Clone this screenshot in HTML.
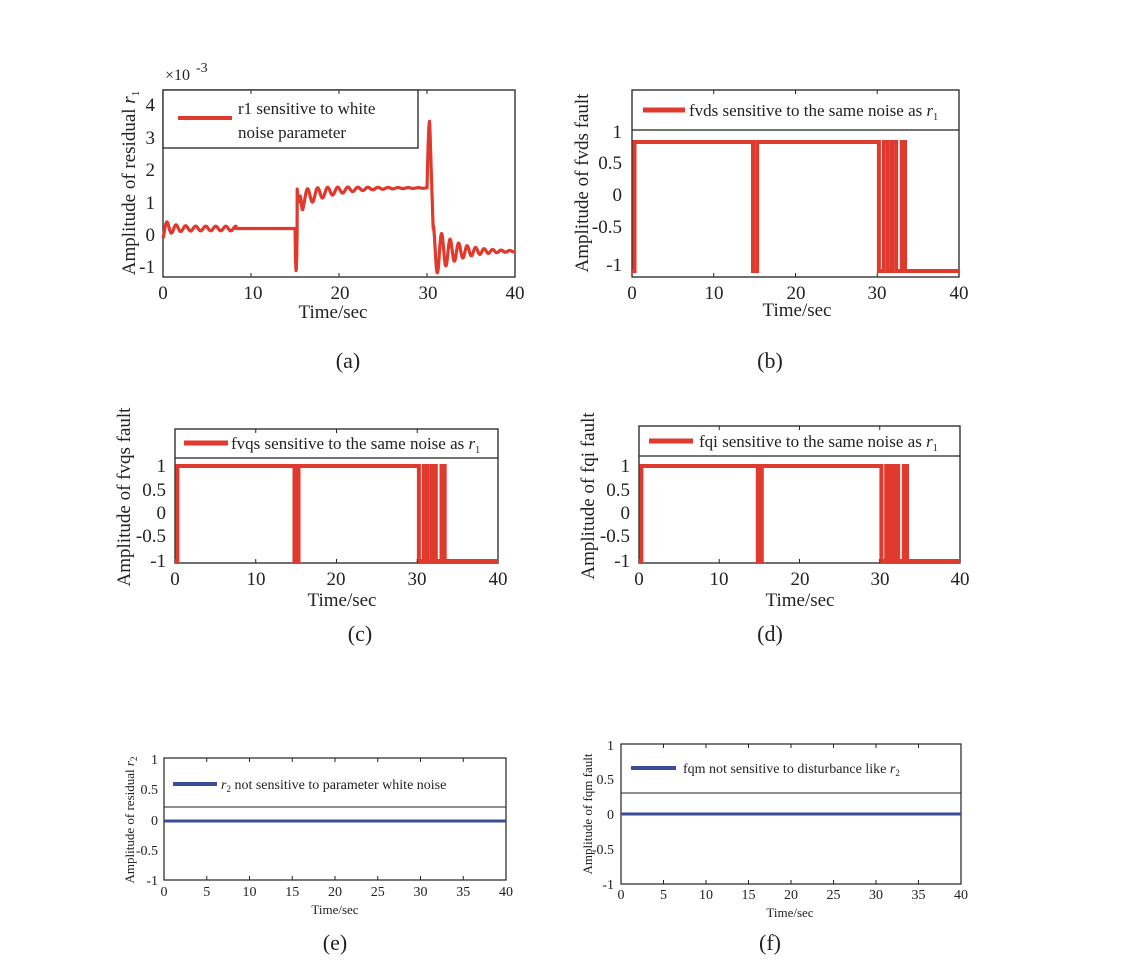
<!DOCTYPE html>
<html><head><meta charset="utf-8"><style>
html,body{margin:0;padding:0;background:#fff}
svg{display:block;font-family:"Liberation Serif",serif}
</style></head><body>
<svg id="s" width="1145" height="980" viewBox="0 0 1145 980" xmlns="http://www.w3.org/2000/svg">
<g fill="#222" font-size="19">
<!-- (a) -->
<text x="165" y="80" font-size="16">×10</text><text x="196" y="72" font-size="14">-3</text>
<rect x="163" y="90" width="352" height="187" fill="none" stroke="#222" stroke-width="1.3"/>
<g text-anchor="end"><text x="155" y="111">4</text><text x="155" y="144">3</text><text x="155" y="176">2</text><text x="155" y="209">1</text><text x="155" y="241">0</text><text x="155" y="273">-1</text></g>
<g text-anchor="middle"><text x="163" y="299">0</text><text x="253" y="299">10</text><text x="340" y="299">20</text><text x="428" y="299">30</text><text x="515" y="299">40</text></g>
<text x="333" y="318" text-anchor="middle">Time/sec</text>
<text transform="translate(135,183) rotate(-90)" text-anchor="middle">Amplitude of residual <tspan font-style="italic">r</tspan><tspan font-size="11" dy="4">1</tspan></text>
<path id="pa" fill="none" stroke="#e03a2e" stroke-width="3.2" stroke-linejoin="round"/>
<rect x="163" y="90" width="255" height="58" fill="#fff" stroke="#222" stroke-width="1.3"/>
<line x1="178" y1="118" x2="232" y2="118" stroke="#e03a2e" stroke-width="4"/>
<text x="238" y="114" font-size="17">r1 sensitive to white</text><text x="238" y="138" font-size="17">noise parameter</text>
<text x="348" y="368" text-anchor="middle" font-size="22">(a)</text>

<!-- (b) -->
<rect x="632" y="90" width="327" height="187" fill="none" stroke="#222" stroke-width="1.3"/>
<line x1="632" y1="130" x2="959" y2="130" stroke="#222" stroke-width="1.3"/>
<g text-anchor="end"><text x="622" y="138">1</text><text x="622" y="169">0.5</text><text x="622" y="201">0</text><text x="622" y="233">-0.5</text><text x="622" y="271">-1</text></g>
<g text-anchor="middle"><text x="632" y="299">0</text><text x="714" y="299">10</text><text x="796" y="299">20</text><text x="877" y="299">30</text><text x="959" y="299">40</text></g>
<text x="797" y="316" text-anchor="middle">Time/sec</text>
<text transform="translate(588,183) rotate(-90)" text-anchor="middle">Amplitude of fvds fault</text>
<path id="pb" fill="none" stroke="#e03a2e" stroke-width="4"/>
<line x1="643" y1="110" x2="685" y2="110" stroke="#e03a2e" stroke-width="5"/>
<text x="689" y="116" font-size="17">fvds sensitive to the same noise as <tspan font-style="italic">r</tspan><tspan font-size="10" dy="4">1</tspan></text>
<text x="770" y="368" text-anchor="middle" font-size="22">(b)</text>

<!-- (c) -->
<rect x="175" y="429" width="323" height="134" fill="none" stroke="#222" stroke-width="1.3"/>
<line x1="175" y1="458" x2="498" y2="458" stroke="#222" stroke-width="1.3"/>
<g text-anchor="end"><text x="166" y="472">1</text><text x="166" y="496">0.5</text><text x="166" y="519">0</text><text x="166" y="542">-0.5</text><text x="166" y="567">-1</text></g>
<g text-anchor="middle"><text x="175" y="585">0</text><text x="256" y="585">10</text><text x="336" y="585">20</text><text x="417" y="585">30</text><text x="498" y="585">40</text></g>
<text x="342" y="606" text-anchor="middle">Time/sec</text>
<text transform="translate(130,497) rotate(-90)" text-anchor="middle">Amplitude of fvqs fault</text>
<path id="pc" fill="none" stroke="#e03a2e" stroke-width="4"/>
<line x1="184" y1="443" x2="228" y2="443" stroke="#e03a2e" stroke-width="5"/>
<text x="231" y="449" font-size="17">fvqs sensitive to the same noise as <tspan font-style="italic">r</tspan><tspan font-size="10" dy="4">1</tspan></text>
<text x="360" y="641" text-anchor="middle" font-size="22">(c)</text>

<!-- (d) -->
<rect x="639" y="426" width="321" height="137" fill="none" stroke="#222" stroke-width="1.3"/>
<line x1="639" y1="456" x2="960" y2="456" stroke="#222" stroke-width="1.3"/>
<g text-anchor="end"><text x="630" y="472">1</text><text x="630" y="496">0.5</text><text x="630" y="519">0</text><text x="630" y="542">-0.5</text><text x="630" y="567">-1</text></g>
<g text-anchor="middle"><text x="639" y="585">0</text><text x="719" y="585">10</text><text x="800" y="585">20</text><text x="880" y="585">30</text><text x="960" y="585">40</text></g>
<text x="800" y="606" text-anchor="middle">Time/sec</text>
<text transform="translate(594,496) rotate(-90)" text-anchor="middle">Amplitude of fqi fault</text>
<path id="pd" fill="none" stroke="#e03a2e" stroke-width="4"/>
<line x1="649" y1="441" x2="693" y2="441" stroke="#e03a2e" stroke-width="5"/>
<text x="699" y="447" font-size="17">fqi sensitive to the same noise as <tspan font-style="italic">r</tspan><tspan font-size="10" dy="4">1</tspan></text>
<text x="770" y="641" text-anchor="middle" font-size="22">(d)</text>

<!-- (e) -->
<rect x="164" y="758" width="342" height="122" fill="none" stroke="#222" stroke-width="1.2"/>
<line x1="164" y1="807" x2="506" y2="807" stroke="#222" stroke-width="1"/>
<line x1="164" y1="821" x2="506" y2="821" stroke="#3c4b9a" stroke-width="3"/>
<line x1="173" y1="784" x2="217" y2="784" stroke="#3c4b9a" stroke-width="4"/>
<text x="221" y="789" font-size="14"><tspan font-style="italic">r</tspan><tspan font-size="9" dy="3">2</tspan><tspan dy="-3"> not sensitive to parameter white noise</tspan></text>
<g text-anchor="end" font-size="14"><text x="158" y="764">1</text><text x="158" y="794">0.5</text><text x="158" y="825">0</text><text x="158" y="855">-0.5</text><text x="158" y="885">-1</text></g>
<g text-anchor="middle" font-size="14" id="te"></g>
<text x="335" y="914" text-anchor="middle" font-size="13">Time/sec</text>
<text transform="translate(134,820) rotate(-90)" text-anchor="middle" font-size="13">Amplitude of residual <tspan font-style="italic">r</tspan><tspan font-size="9" dy="3">2</tspan></text>
<text x="335" y="950" text-anchor="middle" font-size="22">(e)</text>

<!-- (f) -->
<rect x="621" y="744" width="340" height="140" fill="none" stroke="#222" stroke-width="1.2"/>
<line x1="621" y1="793" x2="961" y2="793" stroke="#222" stroke-width="1"/>
<line x1="621" y1="814" x2="961" y2="814" stroke="#3c4b9a" stroke-width="3"/>
<line x1="631" y1="768" x2="676" y2="768" stroke="#3c4b9a" stroke-width="4"/>
<text x="683" y="773" font-size="14">fqm not sensitive to disturbance like <tspan font-style="italic">r</tspan><tspan font-size="9" dy="3">2</tspan></text>
<g text-anchor="end" font-size="14"><text x="614" y="750">1</text><text x="614" y="784">0.5</text><text x="614" y="819">0</text><text x="614" y="854">-0.5</text><text x="614" y="889">-1</text></g>
<g text-anchor="middle" font-size="14" id="tf"></g>
<text x="790" y="917" text-anchor="middle" font-size="13">Time/sec</text>
<text transform="translate(592,814) rotate(-90)" text-anchor="middle" font-size="13">Amplitude of fqm fault</text>
<text x="770" y="950" text-anchor="middle" font-size="22">(f)</text>
</g>
<g id="ticks" stroke="#222" stroke-width="1"></g>
</svg>
<script>
var NS="http://www.w3.org/2000/svg";
function el(p,tag,a,txt){var e=document.createElementNS(NS,tag);for(var k in a)e.setAttribute(k,a[k]);if(txt!=null)e.textContent=txt;document.getElementById(p).appendChild(e);}
// (a)
var d="";for(var i=0;i<=4000;i++){var t=i/100,v;
if(t<15){v=0.2-0.3*Math.exp(-t*1.2)*Math.cos(t*6)+(t<8.3?0.07*Math.sin(t*5.5):0);}
else if(t<30){var u=t-15;
 if(u<0.25)v=0.2-1.3*Math.sin(u/0.25*Math.PI);
 else{v=1.45-0.45*Math.exp(-u*0.35)+0.35*Math.exp(-u*0.25)*Math.sin(u*5.5)+(u<1?0.5*Math.sin(u*12)*(1-u):0);}}
else{var u=t-30;
 if(u<0.3)v=1.45+2.05*Math.sin(u/0.3*Math.PI/2);
 else if(u<0.7)v=3.5-(u-0.3)/0.4*3.3;
 else v=-0.5+0.8*Math.exp(-(u-0.7)*0.4)*Math.cos((u-0.7)*6.5);}
d+=(i?"L":"M")+(163+t*8.8).toFixed(1)+","+(235-v*32.5).toFixed(1);}
document.getElementById("pa").setAttribute("d",d);
function sq(id,x0,sx,yh,yl){var pts=[[0,0],[0.3,1],[14.8,0],[15.3,1],[30.2,0],[30.8,1],[31.3,0],[31.8,1],[32.3,0],[33.0,1],[33.4,0]];
var s="M"+x0+","+yl;pts.forEach(function(p,i){var x=(x0+p[0]*sx).toFixed(1);if(i>0){s+="L"+x+","+(p[1]?yl:yh);}s+="L"+x+","+(p[1]?yh:yl);});
s+="L"+(x0+40*sx)+","+yl;document.getElementById(id).setAttribute("d",s);}
sq("pb",632,8.175,142,271);sq("pc",175,8.075,466,561);sq("pd",639,8.025,466,561);
for(var k=0;k<=8;k++){el("te","text",{x:164+k*342/8,y:896},String(k*5));el("tf","text",{x:621+k*340/8,y:899},String(k*5));}
function tk(x0,x1,ybot,n,ytop){for(var k=1;k<n;k++){var x=x0+(x1-x0)*k/n;el("ticks","line",{x1:x,y1:ybot,x2:x,y2:ybot-4});el("ticks","line",{x1:x,y1:ytop,x2:x,y2:ytop+4});}}
tk(163,515,277,4,90);tk(632,959,277,4,90);tk(175,498,563,4,429);tk(639,960,563,4,426);tk(164,506,880,8,758);tk(621,961,884,8,744);
</script>
</body></html>
